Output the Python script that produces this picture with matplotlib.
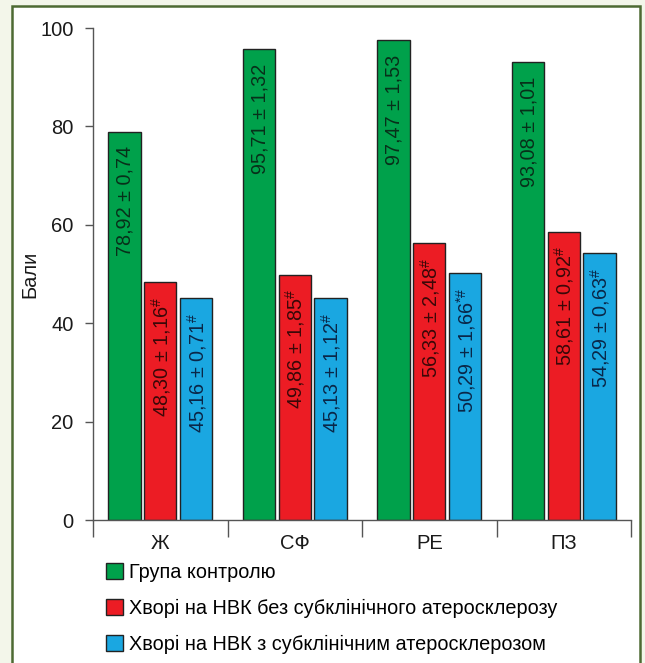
import matplotlib
matplotlib.use("Agg")
import matplotlib.pyplot as plt
from matplotlib.patches import Rectangle
import numpy as np

categories = ["Ж", "СФ", "РЕ", "ПЗ"]
series_names = ["Група контролю",
                "Хворі на НВК без субклінічного атеросклерозу",
                "Хворі на НВК з субклінічним атеросклерозом"]
control = [78.92, 95.71, 97.47, 93.08]
no_athero = [48.30, 49.86, 56.33, 58.61]
athero = [45.16, 45.13, 50.29, 54.29]
labels_control = ["78,92 ± 0,74", "95,71 ± 1,32", "97,47 ± 1,53", "93,08 ± 1,01"]
labels_no_athero = ["48,30 ± 1,16$^{\\#}$", "49,86 ± 1,85$^{\\#}$",
                    "56,33 ± 2,48$^{\\#}$", "58,61 ± 0,92$^{\\#}$"]
labels_athero = ["45,16 ± 0,71$^{\\#}$", "45,13 ± 1,12$^{\\#}$",
                 "50,29 ± 1,66$^{*\\#}$", "54,29 ± 0,63$^{\\#}$"]

colors = ["#00a14b", "#ec1c24", "#1aa7e1"]
text_colors = ["#08301a", "#3a0808", "#0a2748"]

plt.rcParams["font.family"] = ["Liberation Sans", "DejaVu Sans"]
plt.rcParams["mathtext.fontset"] = "custom"
plt.rcParams["mathtext.rm"] = "Liberation Sans"
plt.rcParams["mathtext.it"] = "Liberation Sans"
plt.rcParams["mathtext.default"] = "rm"

fig = plt.figure(figsize=(6.45, 6.63), dpi=100, facecolor="#f3f6ea")
# frame around the chart
fig.patches.append(Rectangle((12 / 645, -0.05), 628 / 645, 1.05 - 6 / 663,
                             transform=fig.transFigure, facecolor="white",
                             edgecolor="#4d6a33", linewidth=1.8, zorder=-10))

ax = fig.add_axes([93 / 645, 1 - 520 / 663, 538 / 645, 492 / 663])
ax.set_facecolor("none")

x = np.arange(len(categories)) + 0.5
offsets = [-0.266, 0.0, 0.266]
width = 0.24
all_vals = [control, no_athero, athero]
all_labels = [labels_control, labels_no_athero, labels_athero]

for k in range(3):
    bars = ax.bar(x + offsets[k], all_vals[k], width, color=colors[k],
                  edgecolor="#222222", linewidth=1.0, label=series_names[k])
    for b, lab in zip(bars, all_labels[k]):
        ax.annotate(lab, (b.get_x() + b.get_width() / 2, b.get_height()),
                    xytext=(0.5, -10.5), textcoords="offset points",
                    rotation=90, ha="center", va="top", fontsize=14.3,
                    color=text_colors[k])

ax.set_xlim(0, 4)
ax.set_ylim(0, 100)
ax.set_yticks([0, 20, 40, 60, 80, 100])
ax.set_xticks([0, 1, 2, 3, 4])
ax.set_xticklabels([])
ax.set_xticks(x, minor=True)
ax.set_xticklabels(categories, minor=True, fontsize=14.5, color="#1a1a1a")
ax.tick_params(axis="x", which="major", direction="out", length=12,
               width=1.0, color="#555555")
ax.tick_params(axis="x", which="minor", length=0, pad=10)
ax.tick_params(axis="y", direction="out", length=6, width=1.0,
               color="#555555", labelsize=14.5, labelcolor="#1a1a1a", pad=8)
for s in ["top", "right"]:
    ax.spines[s].set_visible(False)
for s in ["left", "bottom"]:
    ax.spines[s].set_color("#555555")
    ax.spines[s].set_linewidth(1.0)
ax.set_ylabel("Бали", fontsize=14.5, color="#1a1a1a")
ax.yaxis.set_label_coords(-0.100, 0.5)

fig.legend(loc="upper left", bbox_to_anchor=(106 / 645, 1 - 563 / 663),
           frameon=False, fontsize=14.3, handlelength=0.85, handleheight=0.85,
           handletextpad=0.3, labelspacing=0.85, borderaxespad=0,
           borderpad=0)

fig.savefig("out.png", dpi=100, facecolor=fig.get_facecolor())
